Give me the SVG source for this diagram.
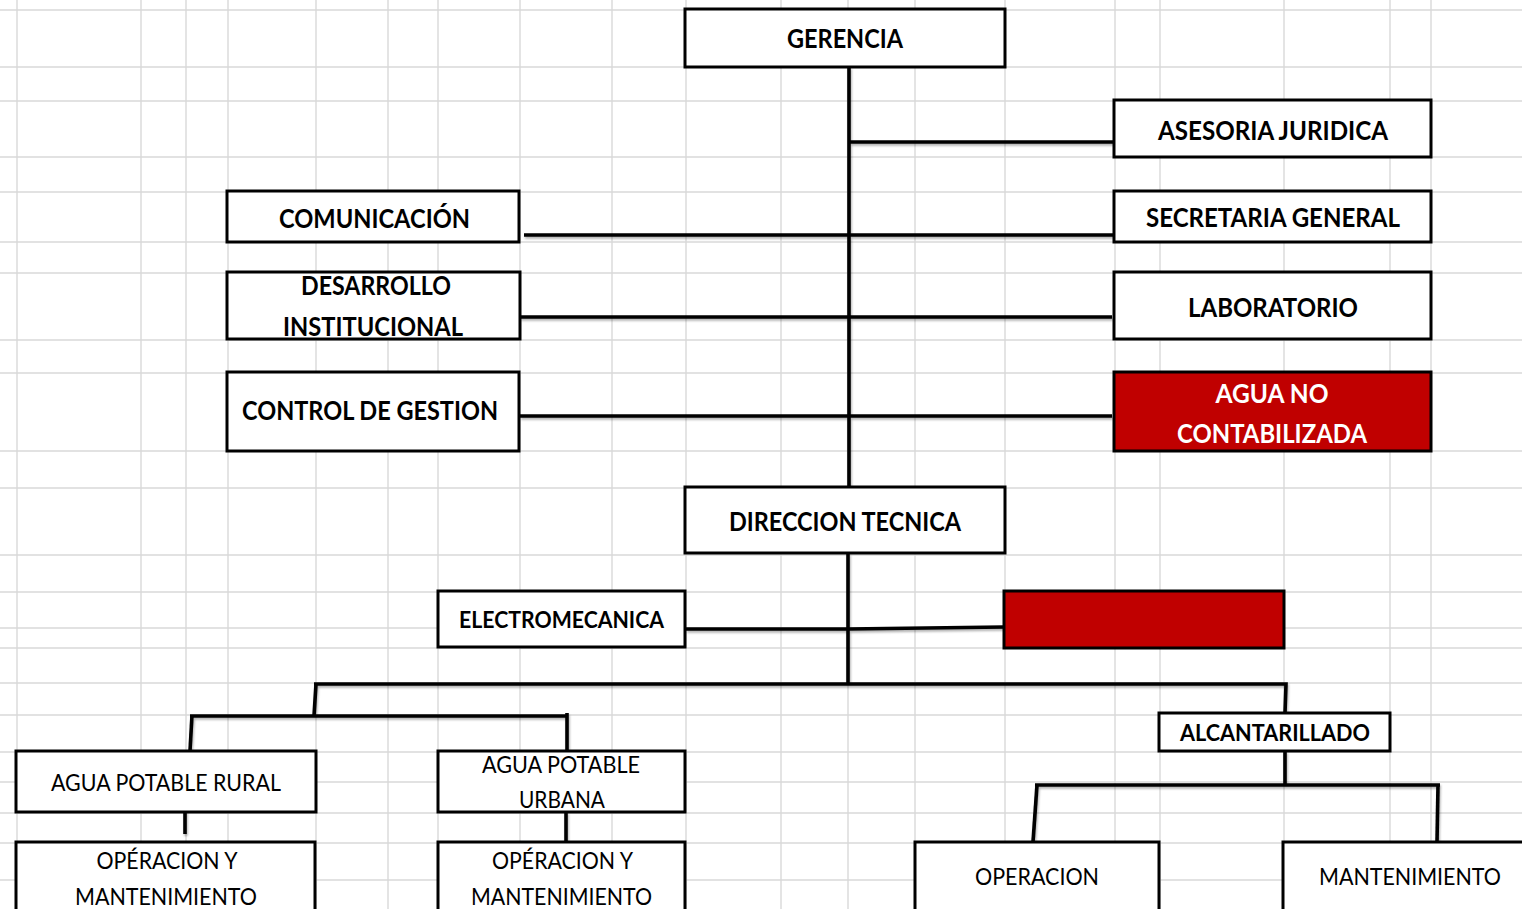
<svg xmlns="http://www.w3.org/2000/svg" width="1522" height="909" viewBox="0 0 1522 909">
<defs>
<style>
.grid line{stroke:#d9d9d9;stroke-width:1.4}
.box{fill:#fff;stroke:#000;stroke-width:3}
.red{fill:#c00000;stroke:#000;stroke-width:3}
.conn path{fill:none;stroke:#000;stroke-width:3.6;stroke-linecap:butt;stroke-linejoin:miter}
text{font-family:Lato,"Open Sans","Liberation Sans",sans-serif;text-anchor:middle;fill:#000}
.b{font-weight:700;font-size:26px}
.s{font-weight:700;font-size:23px}
.r{font-weight:400;font-size:24px}
.w{fill:#fff}
</style>
<filter id="sh" filterUnits="userSpaceOnUse" x="0" y="0" width="1522" height="909">
<feDropShadow dx="1" dy="2" stdDeviation="1" flood-color="#000" flood-opacity="0.3"/>
</filter>
</defs>
<rect x="0" y="0" width="1522" height="909" fill="#fff"/>
<g class="grid">
<line x1="0" y1="10" x2="1522" y2="10"/>
<line x1="0" y1="67" x2="1522" y2="67"/>
<line x1="0" y1="101" x2="1522" y2="101"/>
<line x1="0" y1="157" x2="1522" y2="157"/>
<line x1="0" y1="192" x2="1522" y2="192"/>
<line x1="0" y1="242" x2="1522" y2="242"/>
<line x1="0" y1="273" x2="1522" y2="273"/>
<line x1="0" y1="340" x2="1522" y2="340"/>
<line x1="0" y1="373" x2="1522" y2="373"/>
<line x1="0" y1="451" x2="1522" y2="451"/>
<line x1="0" y1="488" x2="1522" y2="488"/>
<line x1="0" y1="555" x2="1522" y2="555"/>
<line x1="0" y1="592" x2="1522" y2="592"/>
<line x1="0" y1="628" x2="1522" y2="628"/>
<line x1="0" y1="648" x2="1522" y2="648"/>
<line x1="0" y1="683" x2="1522" y2="683"/>
<line x1="0" y1="715" x2="1522" y2="715"/>
<line x1="0" y1="752" x2="1522" y2="752"/>
<line x1="0" y1="782" x2="1522" y2="782"/>
<line x1="0" y1="813" x2="1522" y2="813"/>
<line x1="0" y1="843" x2="1522" y2="843"/>
<line x1="0" y1="880" x2="1522" y2="880"/>
<line x1="17" y1="0" x2="17" y2="909"/>
<line x1="141" y1="0" x2="141" y2="909"/>
<line x1="186" y1="0" x2="186" y2="909"/>
<line x1="228" y1="0" x2="228" y2="909"/>
<line x1="316" y1="0" x2="316" y2="909"/>
<line x1="388" y1="0" x2="388" y2="909"/>
<line x1="438" y1="0" x2="438" y2="909"/>
<line x1="520" y1="0" x2="520" y2="909"/>
<line x1="612" y1="0" x2="612" y2="909"/>
<line x1="686" y1="0" x2="686" y2="909"/>
<line x1="781" y1="0" x2="781" y2="909"/>
<line x1="848" y1="0" x2="848" y2="909"/>
<line x1="915" y1="0" x2="915" y2="909"/>
<line x1="1005" y1="0" x2="1005" y2="909"/>
<line x1="1115" y1="0" x2="1115" y2="909"/>
<line x1="1160" y1="0" x2="1160" y2="909"/>
<line x1="1284" y1="0" x2="1284" y2="909"/>
<line x1="1390" y1="0" x2="1390" y2="909"/>
<line x1="1431" y1="0" x2="1431" y2="909"/>
</g>
<g id="connectors" class="conn" filter="url(#sh)">
<path d="M849,67 V488"/>
<path d="M849,142 H1114"/>
<path d="M524,235 H1114"/>
<path d="M520,317 H1112"/>
<path d="M520,416 H1112"/>
<path d="M848,553 V684"/>
<path d="M686,629 H848 L1004,627"/>
<path d="M314,684 H1286 L1285,713"/>
<path d="M316,684 L314,716"/>
<path d="M190,716 H567"/>
<path d="M567,713 V751"/>
<path d="M192,715 L190,751"/>
<path d="M185,810 V834"/>
<path d="M566,812 V842"/>
<path d="M1285,751 V785"/>
<path d="M1035,785 H1440"/>
<path d="M1037,785 L1033,842"/>
<path d="M1438,785 L1437,842"/>
</g>
<g id="gerencia"><rect class="box" x="685" y="9" width="320" height="58"/><text class="b" x="845" y="48" textLength="116" lengthAdjust="spacingAndGlyphs">GERENCIA</text></g>
<g id="asesoria-juridica"><rect class="box" x="1114" y="100" width="317" height="57"/><text class="b" x="1273" y="140" textLength="230" lengthAdjust="spacingAndGlyphs">ASESORIA JURIDICA</text></g>
<g id="secretaria-general"><rect class="box" x="1114" y="191" width="317" height="51"/><text class="b" x="1273" y="227" textLength="254" lengthAdjust="spacingAndGlyphs">SECRETARIA GENERAL</text></g>
<g id="laboratorio"><rect class="box" x="1114" y="272" width="317" height="67"/><text class="b" x="1273" y="317" textLength="170" lengthAdjust="spacingAndGlyphs">LABORATORIO</text></g>
<g id="agua-no-contabilizada"><rect class="red" x="1114" y="372" width="317" height="79"/><text class="b w" x="1272" y="403" textLength="113" lengthAdjust="spacingAndGlyphs">AGUA NO</text><text class="b w" x="1272" y="443" textLength="190" lengthAdjust="spacingAndGlyphs">CONTABILIZADA</text></g>
<g id="comunicacion"><rect class="box" x="227" y="191" width="292" height="51"/><text class="b" x="374.5" y="228" textLength="191" lengthAdjust="spacingAndGlyphs">COMUNICACIÓN</text></g>
<g id="desarrollo-institucional"><rect class="box" x="227" y="272" width="293" height="67"/><text class="b" x="376" y="295" textLength="150" lengthAdjust="spacingAndGlyphs">DESARROLLO</text><text class="b" x="373" y="336" textLength="180" lengthAdjust="spacingAndGlyphs">INSTITUCIONAL</text></g>
<g id="control-de-gestion"><rect class="box" x="227" y="372" width="292" height="79"/><text class="b" x="370" y="420" textLength="256" lengthAdjust="spacingAndGlyphs">CONTROL DE GESTION</text></g>
<g id="direccion-tecnica"><rect class="box" x="685" y="487" width="320" height="66"/><text class="b" x="845" y="531" textLength="232" lengthAdjust="spacingAndGlyphs">DIRECCION TECNICA</text></g>
<g id="electromecanica"><rect class="box" x="438" y="591" width="247" height="56"/><text class="s" x="561.5" y="628" textLength="205" lengthAdjust="spacingAndGlyphs">ELECTROMECANICA</text></g>
<g id="red-box"><rect class="red" x="1004" y="591" width="280" height="57"/></g>
<g id="alcantarillado"><rect class="box" x="1159" y="713" width="231" height="38"/><text class="s" x="1275" y="741" textLength="190" lengthAdjust="spacingAndGlyphs">ALCANTARILLADO</text></g>
<g id="agua-potable-rural"><rect class="box" x="16" y="751" width="300" height="61"/><text class="r" x="166" y="791" textLength="230" lengthAdjust="spacingAndGlyphs">AGUA POTABLE RURAL</text></g>
<g id="agua-potable-urbana"><rect class="box" x="438" y="751" width="247" height="61"/><text class="r" x="561" y="773" textLength="158" lengthAdjust="spacingAndGlyphs">AGUA POTABLE</text><text class="r" x="562" y="808" textLength="86" lengthAdjust="spacingAndGlyphs">URBANA</text></g>
<g id="operacion-mantenimiento-rural"><rect class="box" x="16" y="842" width="299" height="80"/><text class="r" x="167" y="869" textLength="141" lengthAdjust="spacingAndGlyphs">OPÉRACION Y</text><text class="r" x="166" y="905" textLength="182" lengthAdjust="spacingAndGlyphs">MANTENIMIENTO</text></g>
<g id="operacion-mantenimiento-urbana"><rect class="box" x="438" y="842" width="247" height="80"/><text class="r" x="562.5" y="869" textLength="141" lengthAdjust="spacingAndGlyphs">OPÉRACION Y</text><text class="r" x="561.5" y="905" textLength="181" lengthAdjust="spacingAndGlyphs">MANTENIMIENTO</text></g>
<g id="operacion"><rect class="box" x="915" y="842" width="244" height="80"/><text class="r" x="1037" y="885" textLength="124" lengthAdjust="spacingAndGlyphs">OPERACION</text></g>
<g id="mantenimiento"><rect class="box" x="1283" y="842" width="260" height="80"/><text class="r" x="1410" y="885" textLength="182" lengthAdjust="spacingAndGlyphs">MANTENIMIENTO</text></g>
</svg>
